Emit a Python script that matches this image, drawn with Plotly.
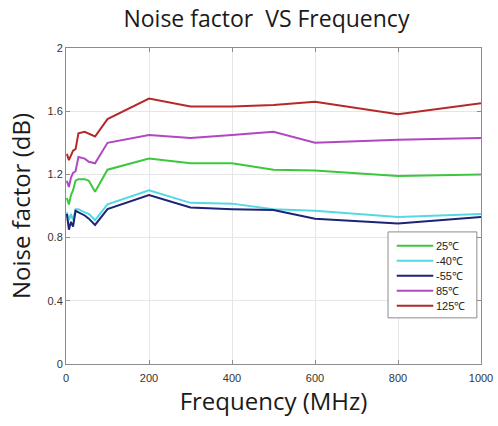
import plotly.graph_objects as go

# Frequency points (MHz)
freq = [2, 7, 12, 17, 23, 30, 45, 55, 70, 100, 200, 300, 400, 500, 600, 800, 1000]

# Noise factor (dB) per temperature
nf_25 = [1.05, 1.01, 1.07, 1.10, 1.16, 1.17, 1.17, 1.16, 1.09, 1.23, 1.30, 1.27, 1.27, 1.23, 1.225, 1.19, 1.20]
nf_m40 = [0.96, 0.91, 0.95, 0.91, 0.98, 0.98, 0.96, 0.95, 0.91, 1.01, 1.10, 1.02, 1.015, 0.98, 0.97, 0.93, 0.95]
nf_m55 = [0.95, 0.85, 0.90, 0.87, 0.97, 0.96, 0.94, 0.92, 0.88, 0.98, 1.07, 0.99, 0.98, 0.975, 0.92, 0.89, 0.93]
nf_85 = [1.16, 1.12, 1.18, 1.21, 1.22, 1.31, 1.30, 1.28, 1.27, 1.40, 1.45, 1.43, 1.45, 1.47, 1.40, 1.42, 1.43]
nf_125 = [1.33, 1.29, 1.32, 1.35, 1.36, 1.46, 1.47, 1.46, 1.44, 1.55, 1.68, 1.63, 1.63, 1.64, 1.66, 1.58, 1.65]

labels = ["25℃", "-40℃", "-55℃", "85℃", "125℃"]
series = [nf_25, nf_m40, nf_m55, nf_85, nf_125]
colors = ["#3cc83c", "#55d8e4", "#1c2378", "#b048c0", "#b42a2a"]

x_ticks = [0, 200, 400, 600, 800, 1000]
y_ticks = [0, 0.4, 0.8, 1.2, 1.6, 2]

fig = go.Figure()
for name, vals, col in zip(labels, series, colors):
    fig.add_trace(go.Scatter(
        x=freq, y=vals, mode="lines", name=name,
        line=dict(color=col, width=2), showlegend=False,
    ))

# Compact boxed legend in the lower right of the plot area (paper coords)
box_x0, box_x1, box_y0, box_y1 = 0.776, 0.990, 0.146, 0.418
row_top, row_step = 0.374, 0.0475
fig.add_shape(type="rect", xref="paper", yref="paper",
              x0=box_x0, x1=box_x1, y0=box_y0, y1=box_y1,
              line=dict(color="#8c8c8c", width=1), fillcolor="white", layer="above")
for i, (name, col) in enumerate(zip(labels, colors)):
    yy = row_top - i * row_step
    fig.add_shape(type="line", xref="paper", yref="paper",
                  x0=0.797, x1=0.885, y0=yy, y1=yy,
                  line=dict(color=col, width=2), layer="above")
    fig.add_annotation(xref="paper", yref="paper", x=0.887, y=yy,
                       xanchor="left", yanchor="middle", showarrow=False,
                       text=name,
                       font=dict(family="Liberation Sans, Arial, sans-serif", size=11, color="#222222"))

axis_common = dict(
    showline=True, linecolor="#8c8c8c", linewidth=1, mirror="ticks",
    ticks="inside", ticklen=4, tickcolor="#8c8c8c",
    showgrid=True, gridcolor="#e6e6e6", gridwidth=1,
    zeroline=False, automargin=False,
    tickfont=dict(family="Liberation Sans, Arial, sans-serif", size=11, color="#333333"),
)

axis_title_font = dict(family="Open Sans, Noto Sans, sans-serif", size=24, color="#1a1a1a")

fig.update_layout(
    width=498, height=426,
    margin=dict(l=66, r=17, t=48, b=62, autoexpand=False),
    paper_bgcolor="white", plot_bgcolor="white",
    title=dict(
        text="Noise factor  VS Frequency",
        font=dict(family="Open Sans, Noto Sans, sans-serif", size=23, color="#1a1a1a"),
        x=0.535, xanchor="center", y=0.955, yanchor="middle",
    ),
    xaxis=dict(
        range=[0, 1000], tickvals=x_ticks,
        ticklabelstandoff=4,
        title=dict(text="Frequency (MHz)", standoff=7, font=axis_title_font),
        **axis_common,
    ),
    yaxis=dict(
        range=[0, 2], tickvals=y_ticks, ticktext=["0", "0.4", "0.8", "1.2", "1.6", "2"],
        title=dict(text="Noise factor (dB)", standoff=10, font=axis_title_font),
        **axis_common,
    ),
    showlegend=False,
)

fig.write_html("out.html")
